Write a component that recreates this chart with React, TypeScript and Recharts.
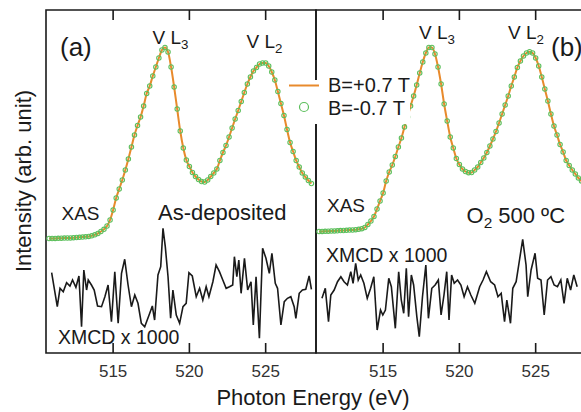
import React from "react";
import { LineChart, Line, XAxis, YAxis, ReferenceArea, ReferenceLine } from "recharts";

// photon energy grid of the XAS scans (eV)
const energy = [
  510.8, 511.0, 511.2, 511.4, 511.6, 511.8, 512.0, 512.2, 512.4, 512.6,
  512.8, 513.0, 513.2, 513.4, 513.6, 513.8, 514.0, 514.2, 514.4, 514.6,
  514.8, 515.0, 515.2, 515.4, 515.6, 515.8, 516.0, 516.2, 516.4, 516.6,
  516.8, 517.0, 517.2, 517.4, 517.6, 517.8, 518.0, 518.2, 518.4, 518.6,
  518.8, 519.0, 519.2, 519.4, 519.6, 519.8, 520.0, 520.2, 520.4, 520.6,
  520.8, 521.0, 521.2, 521.4, 521.6, 521.8, 522.0, 522.2, 522.4, 522.6,
  522.8, 523.0, 523.2, 523.4, 523.6, 523.8, 524.0, 524.2, 524.4, 524.6,
  524.8, 525.0, 525.2, 525.4, 525.6, 525.8, 526.0, 526.2, 526.4, 526.6,
  526.8, 527.0, 527.2, 527.4, 527.6, 527.8, 528.0,
];

// (a) as-deposited, XAS (B = +0.7 T and -0.7 T overlap)
const xasA = [
  114.5, 114.5, 114.6, 114.7, 114.8, 114.9, 115, 115.1, 115.3, 115.5,
  115.7, 115.9, 116.2, 116.6, 117.2, 118.2, 119.5, 121.5, 123.7, 127,
  133, 143, 155, 164, 173, 183, 194, 206, 218, 227.5,
  236, 247, 259.5, 267, 277, 286, 295, 303, 305.5, 301,
  286, 266, 244, 222, 205, 193, 186.5, 180.5, 176.5, 173.5,
  171.5, 171, 173, 176.5, 180, 184, 192.5, 200.5, 207.5, 216,
  225, 234, 242.5, 251.5, 260.5, 269, 276, 282, 285.5, 289,
  290, 290, 287, 281, 273, 261.5, 249.5, 237.5, 223.5, 210.5,
  201.5, 192.5, 186, 180, 176, 172.5, 169.5,
];

// (b) O2 500 C, XAS
const xasB = [
  121.5, 121.6, 121.7, 121.8, 122, 122.1, 122.2, 122.4, 122.5, 122.7,
  122.9, 123, 123.3, 123.7, 124.3, 125.5, 128.5, 132, 136.5, 144,
  152, 160, 172, 181, 188, 196.5, 206, 215, 226, 236,
  247, 257, 268, 280, 291, 300, 305.5, 305.5, 299, 286,
  269, 249, 232, 216, 205, 194.5, 188.5, 184, 181.5, 180.3,
  180.5, 183, 186, 190.5, 195, 200.5, 207, 214, 221.5, 230,
  239, 248, 257, 267, 276, 285.5, 292, 297, 300, 301.3,
  300, 295, 287, 276, 264, 252, 239, 227, 218, 208.5,
  201, 192.5, 187.5, 183, 179, 175, 172,
];

// XMCD x 1000 (offset), panel (a)
const xmcdEnergyA = [
  510.97, 511.34, 511.52, 511.73, 511.95, 512.17, 512.34, 512.56, 512.76, 512.93,
  513.08, 513.26, 513.37, 513.58, 513.76, 513.98, 514.24, 514.46, 514.67, 514.89,
  515.11, 515.33, 515.55, 515.76, 515.98, 516.2, 516.42, 516.63, 516.85, 517.07,
  517.4, 517.57, 517.72, 517.94, 518.12, 518.27, 518.42, 518.6, 518.77, 518.92,
  519.14, 519.36, 519.58, 519.79, 519.97, 520.19, 520.45, 520.67, 520.88, 521.1,
  521.28, 521.54, 521.75, 521.97, 522.19, 522.41, 522.63, 522.84, 522.95, 523.11,
  523.24, 523.39, 523.61, 523.82, 524.04, 524.19, 524.37, 524.59, 524.8, 525.02,
  525.24, 525.41, 525.63, 525.78, 526.0, 526.22, 526.43, 526.65, 526.87, 526.98,
  527.2, 527.41, 527.63, 527.85, 528.0,
];
const xmcdA = [
  80.3, 46.3, 64.7, 61.3, 70.3, 67, 73, 65.7, 77, 26.3,
  83, 63, 73, 68, 63, 47, 46.3, 56.3, 68, 31.3,
  81.3, 29.7, 79.7, 93.7, 68, 46.3, 58, 49.7, 29.7, 26.3,
  39.7, 47, 33, 78, 86.3, 124.7, 106.3, 76.3, 34.7, 63,
  38, 29.7, 46.3, 49.7, 80.3, 77, 56.3, 64.7, 53, 66.3,
  56.3, 71.3, 88, 81.3, 73, 64.7, 66.3, 68, 96.3, 76.3,
  93, 59.7, 94.7, 63, 71.3, 28, 76.3, 14.7, 104.7, 94.7,
  79.7, 99.7, 69.7, 64.7, 28, 51.3, 54.7, 56.3, 46.3, 34.7,
  59.7, 63, 63.7, 77, 63.7,
];

// XMCD x 1000 (offset), panel (b)
const xmcdEnergyB = [
  510.99, 511.21, 511.42, 511.57, 511.79, 512.01, 512.23, 512.44, 512.66, 512.88,
  513.03, 513.2, 513.37, 513.53, 513.74, 513.96, 514.18, 514.39, 514.61, 514.83,
  514.98, 515.15, 515.37, 515.54, 515.8, 516.02, 516.19, 516.35, 516.52, 516.67,
  516.85, 517.0, 517.21, 517.37, 517.58, 517.8, 517.97, 518.19, 518.41, 518.62,
  518.8, 518.99, 519.17, 519.32, 519.49, 519.66, 519.88, 520.1, 520.31, 520.53,
  520.75, 521.01, 521.33, 521.55, 521.77, 522.05, 522.31, 522.53, 522.74, 522.96,
  523.11, 523.35, 523.5, 523.72, 523.94, 524.15, 524.37, 524.48, 524.7, 524.96,
  525.13, 525.35, 525.56, 525.78, 526.0, 526.21, 526.43, 526.65, 526.86, 527.07,
  527.29, 527.5, 527.72,
];
const xmcdB = [
  54.7, 64.7, 31.3, 58, 63, 71.3, 76.3, 71.3, 68, 81.3,
  69.7, 89.7, 73, 78, 69.7, 54.7, 64.7, 76.3, 23, 43,
  38, 43, 74.7, 66.3, 24.7, 81.3, 53, 39.7, 84.7, 36.3,
  78, 68, 36.3, 16.3, 56.3, 88, 34.7, 64.7, 68, 73,
  38, 58, 81.3, 33, 78, 69.7, 73, 68, 56.3, 66.3,
  58, 49.7, 66.3, 73, 81.3, 71.3, 68, 56.3, 59.7, 31.3,
  53, 29.7, 64.7, 71.3, 93, 113.7, 88, 56.3, 83, 99.7,
  74.7, 73, 38, 73, 76.3, 68, 66.3, 73, 49.7, 74.7,
  63, 78, 66.3,
];

const tickValues = [515, 520, 525];
const X_DOMAIN: [number, number] = [510.6, 528.3];
const Y_DOMAIN: [number, number] = [0, 343];

const FONT = "'Liberation Sans', Arial, sans-serif";
const INK = "#1a1a1a";
const ORANGE = "#e88a2c";
const GREEN = "#5cbf5c";

function Panel({ xas, xmcdE, xmcd, left }: { xas: number[]; xmcdE: number[]; xmcd: number[]; left: number }) {
  const xasRows = energy.map((e, i) => ({ e, plus: xas[i], minus: xas[i] }));
  const xmcdRows = xmcdE.map((e, i) => ({ e, v: xmcd[i] }));
  return (
    <div style={{ position: "absolute", left, top: 0 }}>
      <LineChart width={317} height={412} data={xasRows} margin={{ top: 10, right: 1, bottom: 29, left: 46 }}>
        <XAxis dataKey="e" type="number" domain={X_DOMAIN} ticks={tickValues} allowDataOverflow
               axisLine={false} tickLine={false} tickSize={0} tickMargin={12} height={30}
               tick={{ fill: "#333", fontSize: 17, fontFamily: FONT }} />
        <YAxis hide type="number" domain={Y_DOMAIN} allowDataOverflow />
        <ReferenceArea x1={X_DOMAIN[0]} x2={X_DOMAIN[1]} y1={Y_DOMAIN[0]} y2={Y_DOMAIN[1]}
                       fill="none" fillOpacity={0} stroke={INK} strokeWidth={1.6} />
        {tickValues.map((t) => (
          <ReferenceLine key={"b" + t} segment={[{ x: t, y: 0 }, { x: t, y: 10 }]} stroke={INK} strokeWidth={1.6} />
        ))}
        {tickValues.map((t) => (
          <ReferenceLine key={"t" + t} segment={[{ x: t, y: 343 }, { x: t, y: 333 }]} stroke={INK} strokeWidth={1.6} />
        ))}
        <Line data={xmcdRows} dataKey="v" type="linear" stroke={INK} strokeWidth={1.6}
              dot={false} isAnimationActive={false} />
        <Line dataKey="plus" type="monotone" stroke={ORANGE} strokeWidth={2}
              dot={false} isAnimationActive={false} />
        <Line dataKey="minus" type="monotone" stroke="none"
              dot={{ r: 2.2, stroke: GREEN, strokeWidth: 1.1, fill: "none" }} isAnimationActive={false} />
      </LineChart>
    </div>
  );
}

function Sub({ children }: { children: React.ReactNode }) {
  return <tspan fontSize="0.7em" dy={5}>{children}</tspan>;
}

export default function App() {
  const t = { fontFamily: FONT, fill: INK };
  return (
    <div style={{ position: "absolute", left: 0, top: 0, width: 581, height: 412, overflow: "hidden", background: "#fff" }}>
      <Panel xas={xasA} xmcdE={xmcdEnergyA} xmcd={xmcdA} left={0} />
      <Panel xas={xasB} xmcdE={xmcdEnergyB} xmcd={xmcdB} left={270} />
      <svg width={581} height={412} style={{ position: "absolute", left: 0, top: 0, pointerEvents: "none" }}>
        {/* panel labels */}
        <text x={60} y={56} fontSize={26} {...t}>(a)</text>
        <text x={551} y={56} fontSize={26} {...t}>(b)</text>
        <text x={152.5} y={43.5} fontSize={19} {...t}>V L<Sub>3</Sub></text>
        <text x={246.5} y={48} fontSize={19} {...t}>V L<Sub>2</Sub></text>
        <text x={419} y={38.5} fontSize={19} {...t}>V L<Sub>3</Sub></text>
        <text x={508} y={38.5} fontSize={19} {...t}>V L<Sub>2</Sub></text>
        <text x={61.5} y={220} fontSize={19} {...t}>XAS</text>
        <text x={158} y={220} fontSize={22} {...t}>As-deposited</text>
        <text x={58} y={344} fontSize={19.5} {...t}>XMCD x 1000</text>
        <text x={327} y={211.5} fontSize={19} {...t}>XAS</text>
        <text x={466.5} y={223} fontSize={22} {...t}>O<Sub>2</Sub><tspan dy={-5}> 500 ºC</tspan></text>
        <text x={326} y={261.5} fontSize={19.5} {...t}>XMCD x 1000</text>
        {/* legend */}
        <rect x={287} y={80} width={123} height={44} fill="#fff" />
        <line x1={289} x2={319} y1={85.5} y2={85.5} stroke={ORANGE} strokeWidth={2} />
        <circle cx={304} cy={107} r={4.5} fill="none" stroke={GREEN} strokeWidth={1.2} />
        <text x={328} y={92} fontSize={20} {...t}>B=+0.7 T</text>
        <text x={328} y={115} fontSize={20} {...t}>B=-0.7 T</text>
        {/* axis titles */}
        <text x={313} y={405} fontSize={22} textAnchor="middle" {...t}>Photon Energy (eV)</text>
        <text x={31} y={181} fontSize={22} textAnchor="middle" transform="rotate(-90, 31, 181)" {...t}>
          Intensity (arb. unit)
        </text>
      </svg>
    </div>
  );
}
